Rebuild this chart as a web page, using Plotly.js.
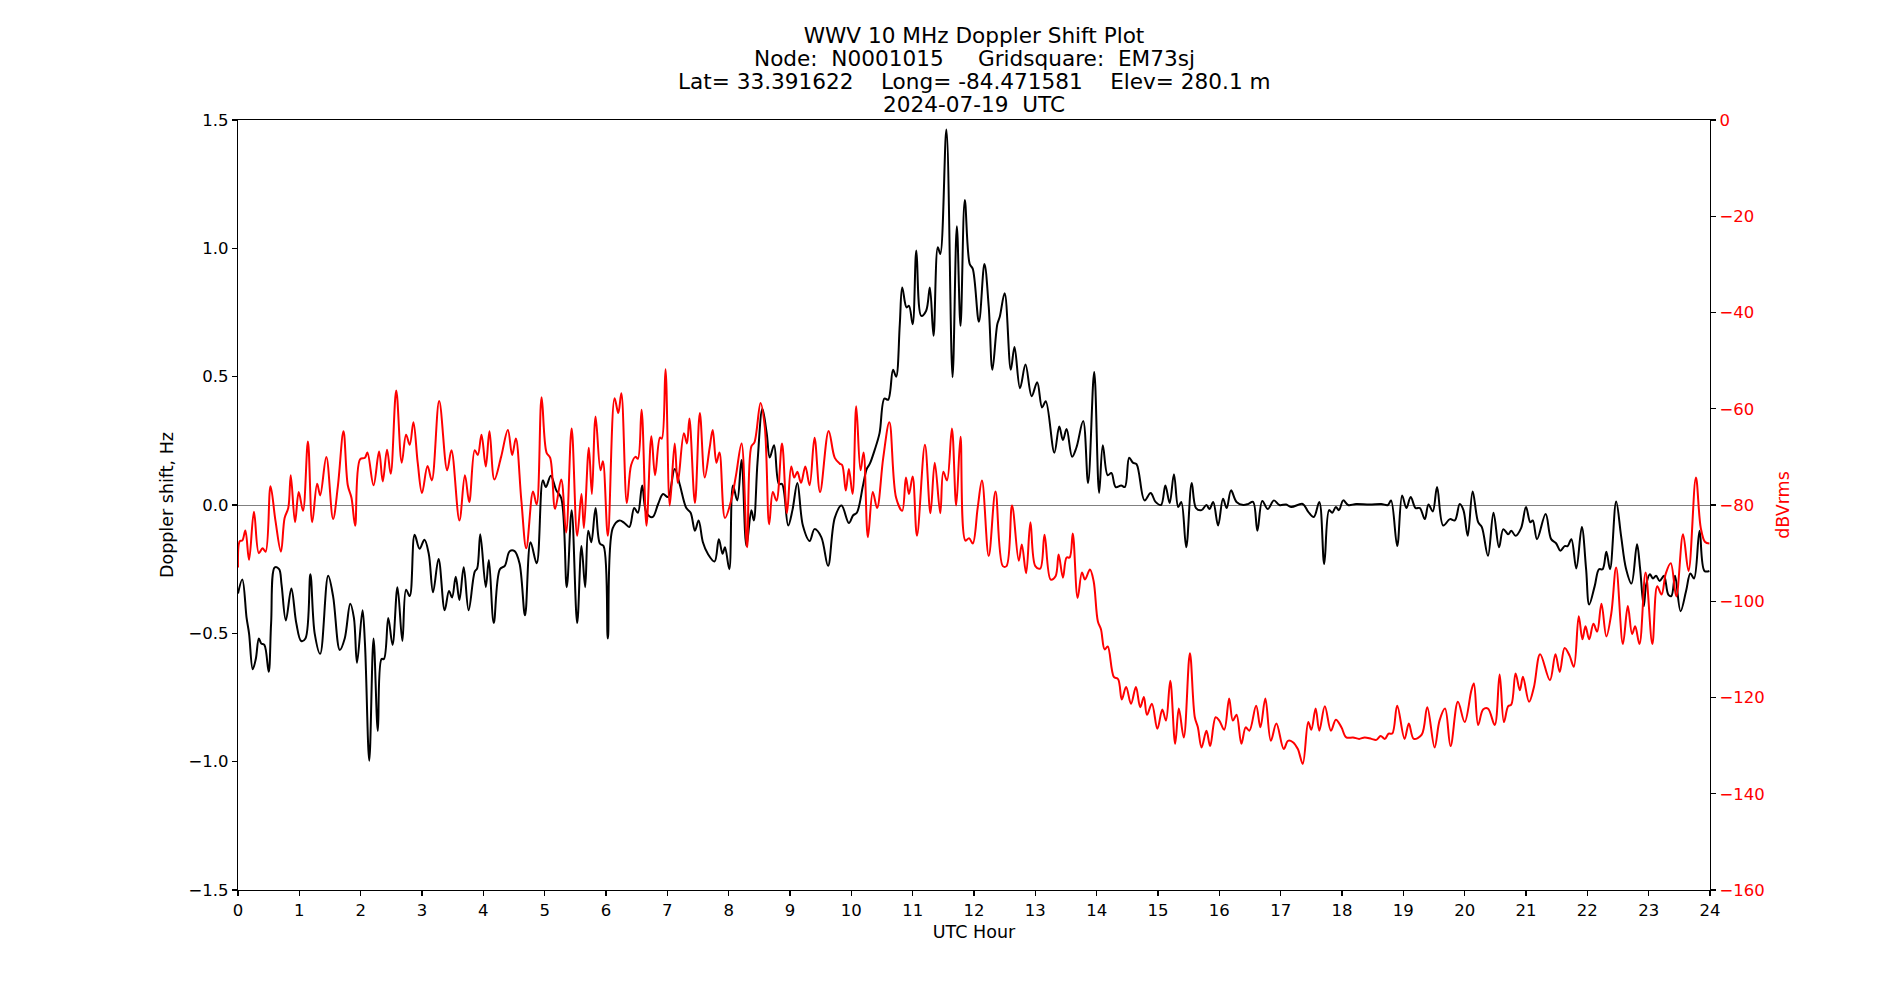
<!DOCTYPE html>
<html>
<head>
<meta charset="utf-8">
<script src="https://cdn.plot.ly/plotly-3.0.1.min.js"></script>
<style>html,body{margin:0;padding:0;background:#fff;}#chart{width:1900px;height:1000px;}</style>
</head>
<body>
<div id="chart"></div>
<script>
// Doppler shift (Hz), black trace
const dopplerHours = [0,0.07,0.14,0.18,0.24,0.29,0.34,0.38,0.43,0.5,0.54,0.6,0.67,0.71,0.78,0.87,0.95,1.03,1.1,1.18,1.25,1.34,1.47,1.55,1.66,1.74,1.83,1.89,1.94,2.03,2.07,2.14,2.21,2.28,2.34,2.38,2.45,2.52,2.6,2.68,2.74,2.8,
2.88,2.96,3.04,3.11,3.18,3.27,3.37,3.44,3.49,3.55,3.61,3.68,3.76,3.86,3.9,3.95,4.04,4.09,4.17,4.27,4.35,4.43,4.51,4.59,4.68,4.77,4.87,4.97,5.02,5.1,5.19,5.27,5.36,5.44,5.53,5.6,5.66,5.71,5.76,5.83,5.9,
5.96,6.03,6.11,6.22,6.3,6.38,6.46,6.52,6.59,6.66,6.76,6.85,6.93,7.01,7.12,7.2,7.31,7.38,7.45,7.51,7.58,7.66,7.77,7.84,7.9,7.94,8.01,8.07,8.14,8.21,8.29,8.37,8.41,8.47,8.55,8.62,8.67,8.74,8.82,
8.87,8.97,9.04,9.12,9.21,9.32,9.4,9.51,9.62,9.73,9.84,9.96,10.03,10.09,10.19,10.25,10.3,10.38,10.46,10.54,10.6,10.68,10.73,10.79,10.83,10.9,10.94,11.0,11.06,11.14,11.22,11.28,11.34,11.41,11.45,11.55,11.65,11.72,
11.78,11.85,11.93,11.98,12.08,12.17,12.24,12.3,12.38,12.42,12.5,12.6,12.66,12.75,12.84,12.94,13.03,13.11,13.17,13.31,13.39,13.45,13.51,13.6,13.67,13.78,13.86,13.96,14.04,14.1,14.18,14.24,14.31,14.4,14.46,14.53,14.59,14.65,
14.78,14.88,14.96,15.05,15.12,15.19,15.26,15.33,15.38,15.46,15.55,15.62,15.71,15.79,15.84,15.9,15.98,16.06,16.12,16.19,16.28,16.39,16.47,16.55,16.62,16.7,16.79,16.89,16.98,17.09,17.17,17.36,17.45,17.54,17.63,
17.71,17.79,17.84,17.9,17.95,18.02,18.1,18.23,18.45,18.64,18.75,18.8,18.9,18.98,19.05,19.12,19.2,19.27,19.35,19.41,19.48,19.55,19.65,19.76,19.84,19.92,19.98,20.05,20.13,20.22,20.28,20.38,
20.47,20.56,20.63,20.71,20.76,20.83,20.92,21.0,21.07,21.11,21.18,21.32,21.41,21.49,21.56,21.63,21.68,21.74,21.82,21.91,21.98,22.03,22.12,22.19,22.25,22.31,22.37,22.47,22.55,22.63,22.72,22.81,22.86,22.92,22.96,23.02,23.07,23.12,23.18,23.25,23.32,23.37,23.43,23.52,23.61,23.68,23.74,23.83,23.91,23.99];
const dopplerHz = [-0.345,-0.29,-0.44,-0.5,-0.64,-0.6,-0.52,-0.54,-0.545,-0.65,-0.46,-0.243,-0.25,-0.31,-0.45,-0.325,-0.46,-0.53,-0.52,-0.27,-0.5,-0.58,-0.276,-0.355,-0.565,-0.52,-0.385,-0.44,-0.615,-0.41,-0.54,-0.996,-0.52,-0.88,-0.6,-0.6,-0.44,-0.545,-0.32,-0.53,-0.33,-0.355,
-0.116,-0.17,-0.135,-0.19,-0.34,-0.21,-0.41,-0.335,-0.36,-0.28,-0.37,-0.243,-0.41,-0.26,-0.247,-0.114,-0.32,-0.214,-0.46,-0.25,-0.237,-0.18,-0.18,-0.227,-0.43,-0.145,-0.227,0.096,0.07,0.114,0.057,0.027,-0.32,-0.02,-0.46,-0.16,-0.32,-0.1,-0.145,-0.012,-0.15,
-0.16,-0.52,-0.09,-0.06,-0.07,-0.086,-0.012,-0.03,0.076,-0.03,-0.047,0.004,0.043,0.031,0.14,0.082,-0.012,-0.03,-0.1,-0.06,-0.145,-0.19,-0.22,-0.133,-0.19,-0.165,-0.25,0.076,0.018,0.175,-0.16,-0.02,-0.06,0.165,0.375,0.28,0.185,0.233,0.082,
0.082,-0.08,-0.02,0.086,-0.08,-0.14,-0.094,-0.125,-0.237,-0.05,-0.002,-0.07,-0.04,-0.03,0.076,0.14,0.16,0.214,0.28,0.415,0.41,0.527,0.5,0.704,0.847,0.77,0.776,0.704,0.992,0.737,0.757,0.847,0.659,1.004,0.978,1.463,0.498,1.086,
0.698,1.188,0.939,0.92,0.714,0.939,0.773,0.527,0.704,0.733,0.825,0.527,0.616,0.455,0.547,0.424,0.478,0.38,0.404,0.204,0.306,0.253,0.296,0.188,0.224,0.327,0.086,0.518,0.047,0.233,0.116,0.125,0.07,0.076,0.07,0.184,0.165,0.159,
0.018,0.047,0.012,0,0.076,0.008,0.12,-0.008,0.012,-0.165,0.086,-0.012,-0.02,0,-0.016,0.012,-0.08,0.024,-0.012,0.057,0.012,0,0.004,0.012,-0.1,0.016,-0.016,0.018,0,0.002,-0.008,0.004,-0.027,-0.047,0.012,
-0.23,-0.02,-0.03,-0.008,-0.02,0.018,0,0.004,0.002,0.004,0,0.018,-0.16,0.037,-0.012,0.031,-0.012,-0.012,-0.055,0.002,-0.025,0.07,-0.08,-0.055,-0.06,0.004,-0.02,-0.12,0.053,-0.067,-0.086,-0.198,
-0.03,-0.165,-0.094,-0.114,-0.1,-0.12,-0.09,-0.008,-0.067,-0.06,-0.133,-0.035,-0.133,-0.149,-0.178,-0.16,-0.16,-0.133,-0.247,-0.086,-0.25,-0.388,-0.316,-0.25,-0.25,-0.182,-0.25,0.014,-0.12,-0.247,-0.306,-0.153,-0.247,-0.394,-0.31,-0.27,-0.286,-0.276,-0.296,-0.276,-0.349,-0.355,-0.276,-0.414,-0.335,-0.267,-0.286,-0.1,-0.257,-0.257];

// Signal level (dBVrms), red trace
const levelHours = [0,0.03,0.07,0.12,0.18,0.26,0.34,0.4,0.45,0.53,0.61,0.7,0.76,0.82,0.86,0.93,0.99,1.06,1.14,1.21,1.29,1.34,1.44,1.55,1.63,1.72,1.79,1.85,1.91,1.99,2.07,2.11,2.21,2.3,2.36,2.43,2.49,2.58,2.67,2.74,2.8,2.86,2.93,
3.0,3.09,3.16,3.28,3.41,3.48,3.61,3.7,3.77,3.86,3.91,3.97,4.04,4.1,4.18,4.29,4.4,4.47,4.53,4.62,4.7,4.81,4.87,4.95,5.03,5.09,5.17,5.27,5.35,5.44,5.53,5.6,5.64,5.72,5.77,5.83,5.91,5.95,
6.03,6.14,6.2,6.25,6.34,6.41,6.48,6.52,6.58,6.66,6.74,6.8,6.88,6.91,6.97,7.04,7.12,7.17,7.27,7.32,7.36,7.45,7.53,7.61,7.69,7.74,7.8,7.85,7.94,8.04,8.12,8.21,8.3,8.37,8.42,8.52,8.59,8.66,8.72,8.78,
8.87,8.95,9.02,9.07,9.12,9.18,9.25,9.32,9.4,9.49,9.63,9.73,9.81,9.85,9.91,9.96,10.02,10.08,10.15,10.2,10.27,10.35,10.42,10.52,10.62,10.73,10.83,10.89,10.94,11.0,11.07,11.2,11.29,11.36,11.45,11.5,11.56,11.64,11.71,11.78,
11.86,11.92,11.98,12.06,12.13,12.24,12.35,12.47,12.53,12.62,12.73,12.78,12.85,12.92,13.0,13.08,13.15,13.25,13.33,13.38,13.45,13.51,13.56,13.61,13.69,13.76,13.81,13.89,13.95,14.02,14.07,14.13,14.18,14.28,14.35,14.41,14.48,14.56,14.64,
14.71,14.77,14.82,14.9,14.99,15.07,15.13,15.2,15.28,15.34,15.42,15.52,15.6,15.65,15.71,15.79,15.85,15.94,16.0,16.08,16.16,16.22,16.28,16.36,16.43,16.49,16.6,16.67,16.75,16.84,16.93,17.05,17.12,17.2,17.28,17.36,17.45,17.5,17.57,17.63,
17.72,17.82,17.9,17.99,18.07,18.18,18.28,18.37,18.48,18.56,18.63,18.7,18.76,18.82,18.9,19.02,19.09,19.17,19.3,19.39,19.51,19.59,19.68,19.77,19.89,20.0,20.11,20.15,20.22,20.3,20.38,20.49,
20.57,20.64,20.71,20.76,20.83,20.9,20.95,21.05,21.13,21.23,21.39,21.48,21.55,21.63,21.71,21.78,21.86,21.92,21.97,22.03,22.1,22.16,22.23,22.31,22.39,22.47,22.58,22.66,22.73,22.78,22.85,22.95,23.06,23.14,23.21,23.28,23.36,23.45,23.56,23.65,23.77,23.85,23.92,23.99];
const levelDb = [-93,-87.5,-87.4,-85.3,-91.4,-81.4,-90,-89,-89.7,-76.1,-83.2,-89.7,-82.7,-80.6,-73.8,-83.6,-77.3,-81.2,-66.8,-83.6,-75.6,-78,-70,-82.9,-75.9,-64.7,-75.9,-78.5,-84.3,-70.5,-70.2,-69.1,-75.9,-68.9,-75.1,-68.5,-73.5,-56.2,-71.2,-65.4,-67.5,-62.8,-71.2,
-77.5,-71.9,-74.9,-58.4,-72.8,-68.6,-83.2,-73.8,-79.4,-68.6,-69.6,-65.4,-72,-64.7,-74.7,-70,-64.4,-69.6,-66.2,-79.1,-89,-77.2,-79.9,-57.6,-69.1,-70.2,-80.8,-74.7,-85.7,-64.1,-86.4,-77.7,-84.8,-68.1,-77.7,-61.6,-72.8,-70.9,
-86.4,-57.8,-60.9,-56.8,-79.6,-71.7,-70,-70.4,-60.2,-84.3,-65.7,-73.8,-66,-66.2,-51.8,-80.1,-67.2,-75.4,-65.1,-67.2,-62,-79.6,-60.9,-74.3,-68.1,-64.4,-71.2,-69.1,-82.7,-79.1,-73.8,-67.2,-88.8,-67.8,-67,-58.8,-63.9,-84,-77.3,-79.1,
-67.2,-81.7,-72,-74.3,-73.1,-75.4,-72,-75.9,-66,-77.3,-64.6,-70.2,-71.4,-71.7,-77,-72.5,-77.7,-59.5,-72.8,-69.1,-86.7,-77.3,-80.6,-70.2,-62.8,-78.5,-81.2,-74.3,-77.7,-74.1,-86.4,-67.5,-81.7,-71.2,-81.7,-73.1,-74.9,-64.1,-80.1,-65.8,
-87.4,-86.9,-88,-80.6,-74.9,-90.6,-77.2,-92.7,-92.7,-80.1,-91.6,-88.2,-94.2,-83.6,-92.7,-93.2,-86.2,-95.5,-94.8,-90.3,-95.1,-90.9,-90.9,-85.9,-99.3,-94,-95.5,-93.4,-95.8,-104.2,-105.8,-110,-109.4,-115.7,-116.2,-120.4,-117.8,-121.3,-117.8,
-122,-119.9,-123.6,-121.3,-126.5,-122.5,-124.8,-116.5,-129.6,-122.3,-128.3,-110.8,-124.1,-126.2,-130.4,-126.9,-130.1,-124.1,-124.8,-126.7,-120.2,-124.8,-123.6,-129.6,-126.2,-126.9,-121.7,-126.2,-120.2,-129,-125.4,-130.7,-129,-129.3,-130.7,-133.8,-125.1,-126.7,-122.3,-126.9,
-121.8,-126.9,-124.6,-126.2,-128.3,-128.3,-128.6,-128.3,-128.6,-128.8,-128,-128.6,-127.5,-127.5,-121.7,-128.6,-125.4,-128.6,-127.7,-122,-130.4,-124.8,-122.3,-130.1,-120.9,-125.1,-118.5,-117.1,-125.7,-122.5,-122.3,-125.7,
-115.2,-125.1,-121.8,-121.5,-115,-118.5,-115.7,-120.9,-117.8,-111,-116.4,-111,-114.7,-109.7,-111.3,-113.6,-103.1,-107.9,-105.2,-107.9,-104.7,-106.3,-100.5,-107.3,-102.6,-93,-108.9,-101,-106.8,-105.2,-108.9,-94,-108.9,-96.9,-98.6,-94.2,-92.1,-99,-86.1,-93.7,-74.3,-84.8,-87.7,-88];

const titleMain = "WWV 10 MHz Doppler Shift Plot";
const subtitleLines = ["Node:  N0001015     Gridsquare:  EM73sj",
  "Lat= 33.391622    Long= -84.471581    Elev= 280.1 m",
  "2024-07-19  UTC"];
const xLabel = "UTC Hour";
const yLabel = "Doppler shift, Hz";
const y2Label = "dBVrms";

const FONT = "DejaVu Sans, Liberation Sans, sans-serif";
const TICK = 16.5, LAB = 17.5, TTL = 21.6;

const traces = [
  {x: dopplerHours, y: dopplerHz, type: "scatter", mode: "lines",
   line: {color: "#000000", width: 2, shape: "spline", smoothing: 1.0},
   yaxis: "y", name: "Doppler shift", hoverinfo: "x+y"},
  {x: levelHours, y: levelDb, type: "scatter", mode: "lines",
   line: {color: "#ff0000", width: 2, shape: "spline", smoothing: 1.0},
   yaxis: "y2", name: "dBVrms", hoverinfo: "x+y"}
];

// title block: plot area spans 120..890 px vertically (770 px), page height 1000 px
const plotTop = 120, plotH = 770, pageH = 1000;
const lineCenters = [35, 58, 81, 104];
const toPaper = (py) => (plotTop + plotH - py) / plotH;

const annotations = subtitleLines.map((t, i) => ({
  text: t, xref: "paper", yref: "paper", x: 0.5, y: toPaper(lineCenters[i + 1]),
  xanchor: "center", yanchor: "middle", showarrow: false,
  font: {family: FONT, size: TTL, color: "#000000"}
}));

const layout = {
  width: 1900, height: 1000,
  margin: {l: 238, r: 190, t: 120, b: 110, pad: 0},
  paper_bgcolor: "#ffffff", plot_bgcolor: "#ffffff",
  showlegend: false,
  font: {family: FONT, size: TICK, color: "#000000"},
  title: {text: titleMain, font: {family: FONT, size: TTL, color: "#000000"},
          x: 0.5, xref: "paper", xanchor: "center",
          y: 1 - lineCenters[0] / pageH, yref: "container", yanchor: "middle"},
  annotations: annotations,
  xaxis: {range: [0, 24], tickmode: "linear", tick0: 0, dtick: 1,
          showgrid: false, zeroline: false, showline: true, linecolor: "#000000", linewidth: 1.1, mirror: true,
          ticks: "outside", ticklen: 5, tickwidth: 1.1, tickcolor: "#000000",
          tickfont: {family: FONT, size: TICK, color: "#000000"},
          title: {text: xLabel, font: {family: FONT, size: LAB, color: "#000000"}, standoff: 6}},
  yaxis: {range: [-1.5, 1.5], tickmode: "linear", tick0: -1.5, dtick: 0.5, tickformat: ".1f",
          showgrid: false, zeroline: true, zerolinecolor: "#808080", zerolinewidth: 1,
          showline: true, linecolor: "#000000", linewidth: 1.1, mirror: true,
          ticks: "outside", ticklen: 5, tickwidth: 1.1, tickcolor: "#000000",
          tickfont: {family: FONT, size: TICK, color: "#000000"},
          title: {text: yLabel, font: {family: FONT, size: LAB, color: "#000000"}, standoff: 10}},
  yaxis2: {range: [-160, 0], overlaying: "y", side: "right", tickmode: "linear", tick0: -160, dtick: 20,
          showgrid: false, zeroline: false, showline: true, linecolor: "#000000", linewidth: 1.1,
          ticks: "outside", ticklen: 5, tickwidth: 1.1, tickcolor: "#000000",
          tickfont: {family: FONT, size: TICK, color: "#ff0000"},
          title: {text: y2Label, font: {family: FONT, size: LAB, color: "#ff0000"}, standoff: 13}}
};

Plotly.newPlot("chart", traces, layout, {displayModeBar: false, staticPlot: true});
</script>
</body>
</html>
